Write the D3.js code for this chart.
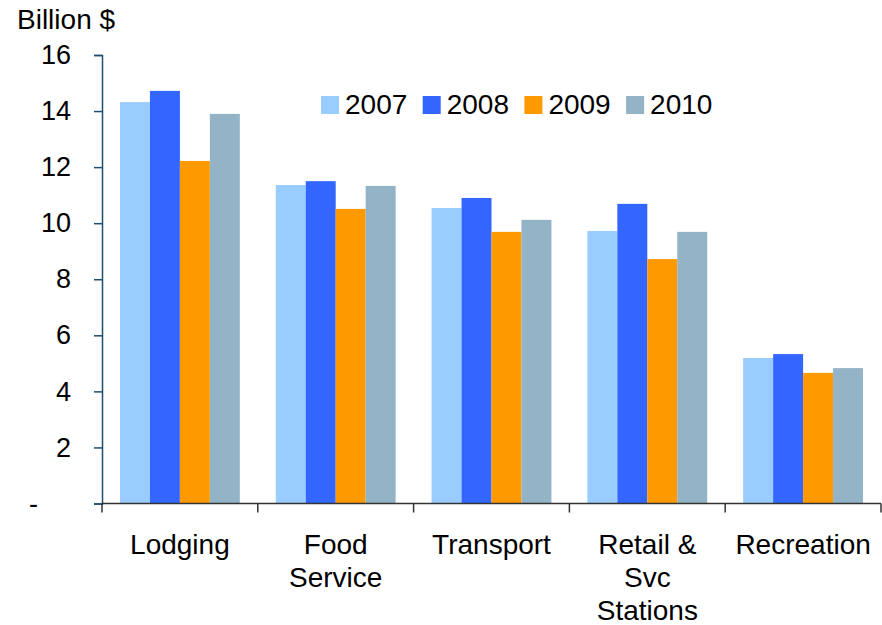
<!DOCTYPE html>
<html>
<head>
<meta charset="utf-8">
<script src="https://cdn.jsdelivr.net/npm/d3@7"></script>
<style>
  body { margin: 0; background: #fff; }
  svg { display: block; font-family: Arial, "Liberation Sans", sans-serif; }
</style>
</head>
<body>
<div class="Canvas"></div>
<script>
// Chart data.
const categories = ['Lodging', 'Food Service', 'Transport', 'Retail & Svc Stations', 'Recreation'];
const categoryLines = [['Lodging'], ['Food', 'Service'], ['Transport'], ['Retail &', 'Svc', 'Stations'], ['Recreation']];
const years = ['2007', '2008', '2009', '2010'];
const values2007 = [14.32, 11.36, 10.54, 9.72, 5.19];
const values2008 = [14.72, 11.50, 10.90, 10.69, 5.33];
const values2009 = [12.22, 10.51, 9.69, 8.72, 4.66];
const values2010 = [13.90, 11.33, 10.12, 9.69, 4.83];
const yTicks = [0, 2, 4, 6, 8, 10, 12, 14, 16];
const yTickLabels = ['-', '2', '4', '6', '8', '10', '12', '14', '16'];
const colors = ['#99ccff', '#3366ff', '#ff9900', '#93b3c6'];

const width = 882;
const height = 625;
const fontSize = 28;
const tickFontSize = 27;

const series = [values2007, values2008, values2009, values2010];

const svg = d3.select('.Canvas').append('svg')
    .attr('width', width)
    .attr('height', height);

// Scales
const x = d3.scaleBand().domain(categories).range([102, 881]).padding(0);
const xYear = d3.scaleBand().domain(years).range([0, x.bandwidth()]).paddingInner(0).paddingOuter(0.6);
const y = d3.scaleLinear().domain([0, 16]).range([503.5, 55]);

// Bars
const groups = svg.selectAll('g.cat')
    .data(categories)
    .enter()
    .append('g')
    .attr('class', 'cat')
    .attr('transform', (d) => `translate(${x(d)},0)`);

groups.selectAll('rect')
    .data((d, i) => years.map((yr, j) => ({ year: yr, value: series[j][i], color: colors[j] })))
    .enter()
    .append('rect')
    .attr('x', (d) => xYear(d.year))
    .attr('width', xYear.bandwidth())
    .attr('y', (d) => y(d.value))
    .attr('height', (d) => y(0) - y(d.value))
    .attr('fill', (d) => d.color);

// Y axis
const yAxis = svg.append('g')
    .attr('transform', `translate(${x.range()[0]},0)`)
    .call(d3.axisLeft(y).tickValues(yTicks).tickSize(8).tickFormat((d, i) => yTickLabels[i]));
yAxis.select('.domain').attr('stroke', '#1f4e6e').attr('stroke-width', 1.5);
yAxis.selectAll('.tick line').attr('stroke', '#1f4e6e').attr('stroke-width', 1.5);
yAxis.selectAll('.tick text')
    .attr('x', (d) => (d === 0 ? -64 : -31))
    .attr('font-size', tickFontSize)
    .attr('font-family', 'Arial, "Liberation Sans", sans-serif')
    .attr('fill', '#000');

// X axis
const xAxis = svg.append('g')
    .attr('transform', `translate(0,${y(0)})`);
xAxis.append('line')
    .attr('x1', x.range()[0]).attr('x2', x.range()[1])
    .attr('stroke', '#333').attr('stroke-width', 1.5);
const bounds = categories.map((c) => x(c)).concat([x.range()[1]]);
xAxis.selectAll('line.tick')
    .data(bounds)
    .enter()
    .append('line')
    .attr('class', 'tick')
    .attr('x1', (d) => d).attr('x2', (d) => d)
    .attr('y1', 0).attr('y2', 9)
    .attr('stroke', '#333').attr('stroke-width', 1.5);

// Category labels (multi-line)
svg.selectAll('text.cat')
    .data(categories)
    .enter()
    .append('text')
    .attr('class', 'cat')
    .attr('text-anchor', 'middle')
    .attr('font-size', fontSize)
    .attr('fill', '#000')
    .each(function (d, i) {
        d3.select(this).selectAll('tspan')
            .data(categoryLines[i])
            .enter()
            .append('tspan')
            .attr('x', x(d) + x.bandwidth() / 2)
            .attr('y', (t, k) => 554 + k * 33)
            .text((t) => t);
    });

// Unit label
svg.append('text')
    .attr('x', 17)
    .attr('y', 29)
    .attr('font-size', fontSize)
    .attr('fill', '#000')
    .text('Billion $');

// Legend
const legend = svg.selectAll('g.legend')
    .data(years)
    .enter()
    .append('g')
    .attr('class', 'legend')
    .attr('transform', (d, i) => `translate(${321 + i * 101.7},96)`);
legend.append('rect')
    .attr('width', 18).attr('height', 18)
    .attr('fill', (d, i) => colors[i]);
legend.append('text')
    .attr('x', 24)
    .attr('y', 18)
    .attr('font-size', fontSize)
    .attr('fill', '#000')
    .text((d) => d);
</script>
</body>
</html>
